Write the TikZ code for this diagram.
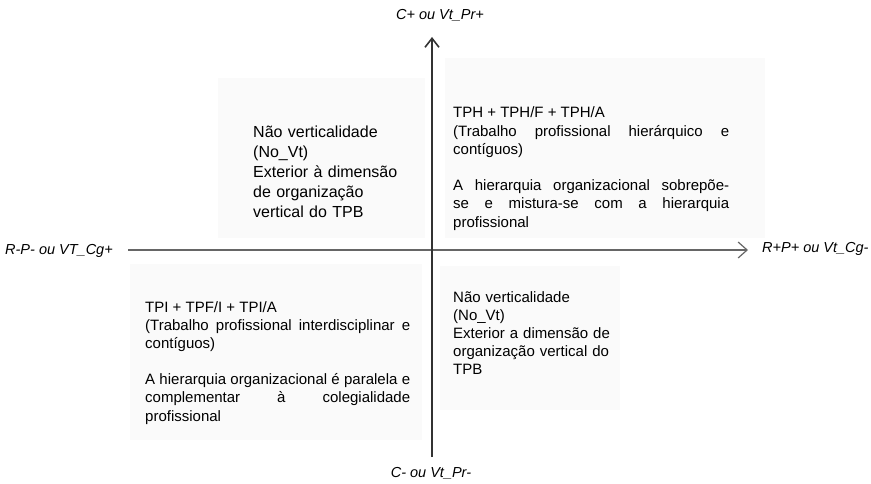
\documentclass[tikz,border=0pt]{standalone}
\usepackage{fontspec}
\setmainfont{Liberation Sans}
\usetikzlibrary{arrows.meta}
\begin{document}
\begin{tikzpicture}[x=1pt,y=-1pt,
  axis/.style={draw=black!60,line width=1.5pt},
  axlabel/.style={font=\fontsize{14.5}{17}\selectfont\itshape,inner sep=0pt},
  quad/.style={inner sep=0pt,align=justify,font=\fontsize{15}{18.2}\selectfont},
  quadl/.style={inner sep=0pt,align=left,font=\fontsize{16}{20}\selectfont},
  shade/.style={fill=black!2,draw=none}]
\useasboundingbox (0,0) rectangle (871,484);
% faint scan shading behind the quadrant texts
\fill[shade] (218,78) rectangle (425,238);
\fill[shade] (445,58) rectangle (765,238);
\fill[shade] (130,264) rectangle (422,440);
\fill[shade] (440,266) rectangle (620,410);
% axes
\coordinate (L) at (128,250);
\coordinate (R) at (748,250);
\coordinate (B) at (432,457);
\coordinate (T) at (432,37);
\draw[axis,-{Straight Barb[length=9pt,width=16pt,line width=1.2pt]}] (L) -- (R);
\draw[axis,draw=black!80,-{Straight Barb[length=9pt,width=14pt,line width=1.6pt]}] (B) -- (T);
% axis labels
\node[axlabel,anchor=center] (top) at (440,15) {C+ ou Vt\_Pr+};
\node[axlabel,anchor=center] (bot) at (431,473) {C- ou Vt\_Pr-};
\node[axlabel,anchor=west] (lft) at (5,251) {R-P- ou VT\_Cg+};
\node[axlabel,anchor=west] (rgt) at (762,249) {R+P+ ou Vt\_Cg-};
% quadrant texts
\node[quadl,text width=160pt,anchor=base west] (tl) at (253,138) {Não verticalidade\\(No\_Vt)\\Exterior à dimensão\\de organização\\vertical do TPB};
\node[quad,anchor=base west,text width=276pt] (tr) at (453,118) {TPH + TPH/F + TPH/A\par (Trabalho profissional hierárquico e\linebreak contíguos)\par\vspace{18.2pt}A hierarquia organizacional sobrepõe-\linebreak se e mistura-se com a hierarquia\linebreak profissional};
\node[quad,anchor=base west,text width=265pt] (bl) at (145,312) {TPI + TPF/I + TPI/A\par (Trabalho profissional interdisciplinar e\linebreak contíguos)\par\vspace{18.2pt}A hierarquia organizacional é paralela e\linebreak complementar à colegialidade\linebreak profissional};
\node[quad,align=left,text width=175pt,anchor=base west] (br) at (453,302) {Não verticalidade\\(No\_Vt)\\Exterior a dimensão de\\organização vertical do\\TPB};
\end{tikzpicture}
\end{document}
